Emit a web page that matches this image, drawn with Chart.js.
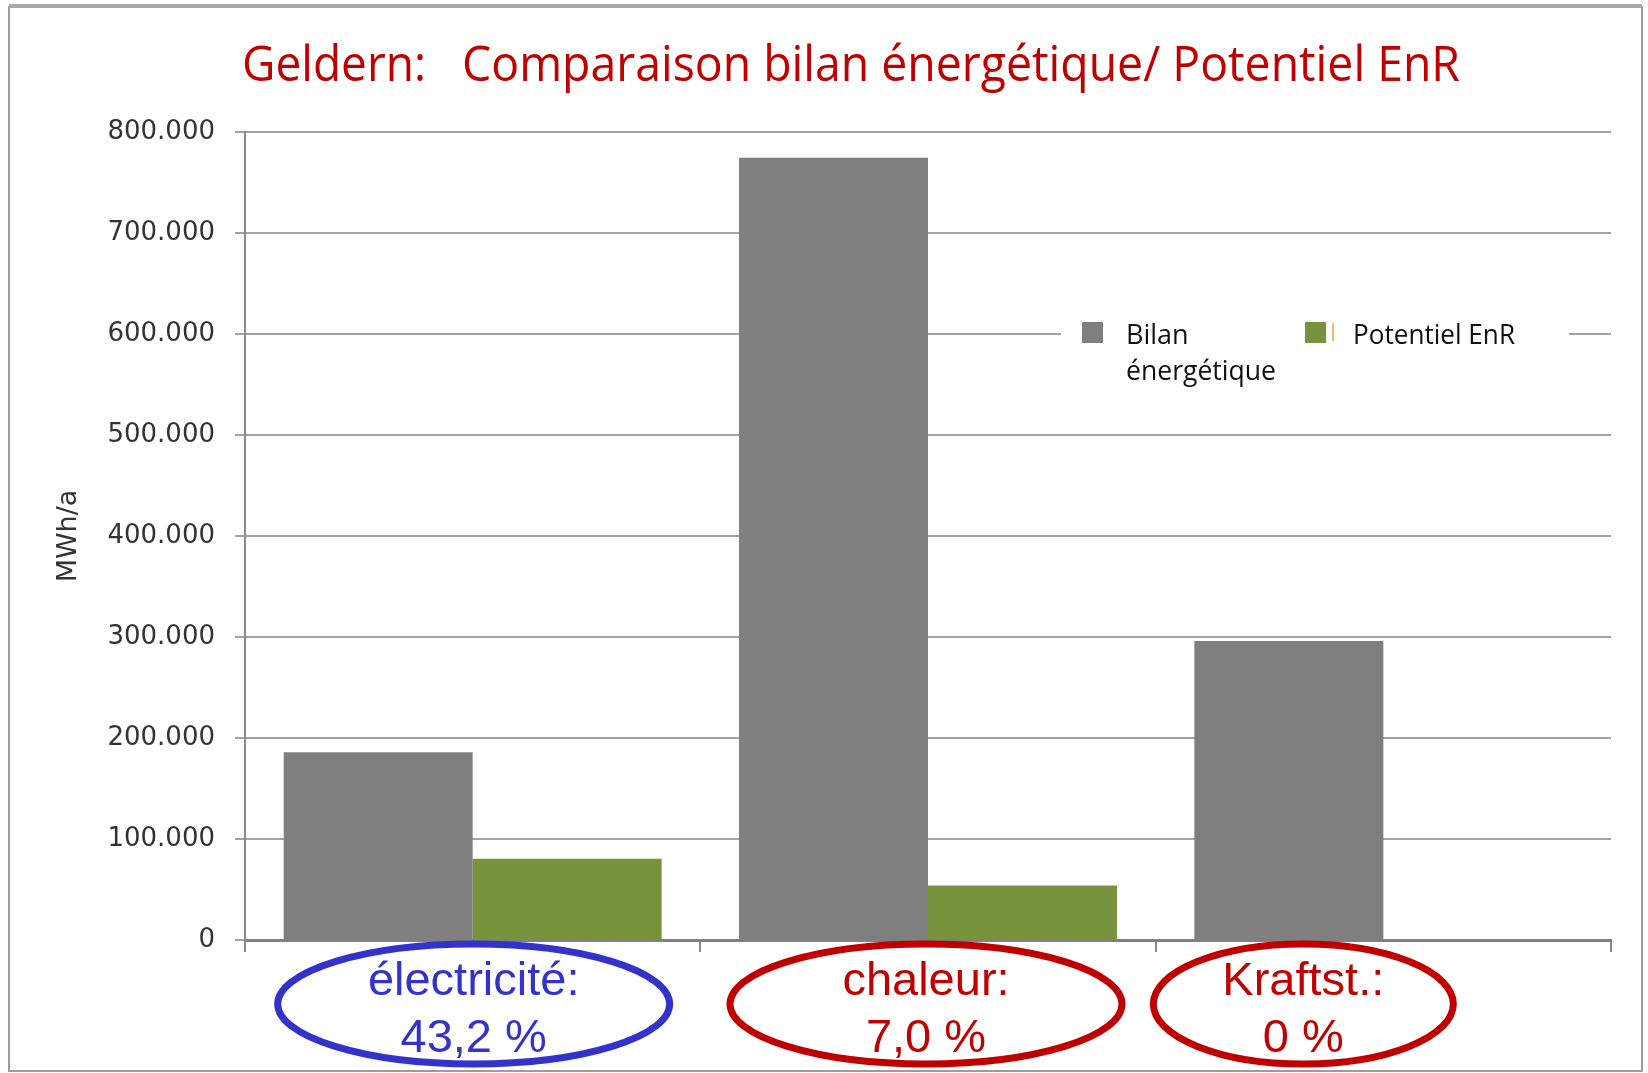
<!DOCTYPE html>
<html>
<head>
<meta charset="utf-8">
<title>Geldern</title>
<script src="https://cdn.jsdelivr.net/npm/chart.js@4.4.1/dist/chart.umd.min.js"></script>
<style>
    html, body { margin: 0; padding: 0; background: #ffffff; }
    #wrap { position: relative; width: 1648px; height: 1073px; }
</style>
</head>
<body>
<div id="wrap"><canvas id="chart" width="1648" height="1073"></canvas></div>
<script>
// --- data ---
const categories = ['électricité:', 'chaleur:', 'Kraftst.:'];
const shareLabels = ['43,2 %', '7,0 %', '0 %'];
const bilanValues = [186000, 774600, 296000];
const potentielValues = [80400, 54000, 0];
const seriesNames = [['Bilan', 'énergétique'], ['Potentiel EnR']];
const seriesColors = ['#7f7f7f', '#77933c'];
const yTickValues = [0, 100000, 200000, 300000, 400000, 500000, 600000, 700000, 800000];
const titleCity = 'Geldern:';
const titleText = 'Comparaison bilan énergétique/ Potentiel EnR';
const yAxisTitle = 'MWh/a';

// note styling (ellipses under the categories)
const noteColors = ['#3333cc', '#c00000', '#c00000'];
const noteShift = [1, -2, -80];
const noteRadiusX = [196, 196, 150];

const RED = '#c00000';

function fmtThousands(v) {
    return String(v).replace(/\B(?=(\d{3})+(?!\d))/g, '.');
}

// white page + grey frame
const framePlugin = {
    id: 'frame',
    beforeDraw(chart) {
        const ctx = chart.ctx;
        ctx.save();
        ctx.fillStyle = '#ffffff';
        ctx.fillRect(0, 0, chart.width, chart.height);
        ctx.strokeStyle = '#9c9c9c';
        ctx.lineWidth = 2;
        ctx.strokeRect(9, 7, 1633, 1064);
        ctx.fillStyle = '#a8a8a8';
        ctx.fillRect(9, 4, 1633, 4);
        ctx.restore();
    }
};

// two-part title
const titlePlugin = {
    id: 'twoPartTitle',
    afterDraw(chart) {
        const ctx = chart.ctx;
        ctx.save();
        ctx.fillStyle = RED;
        ctx.textBaseline = 'alphabetic';
        ctx.textAlign = 'left';
        ctx.font = '50px "Open Sans"';
        ctx.fillText(titleCity, 242, 81, 184);
        ctx.fillText(titleText, 462, 81, 998);
        ctx.restore();
    }
};

// legend inside the plot area, first label wraps on two lines
const legendPlugin = {
    id: 'boxLegend',
    afterDatasetsDraw(chart) {
        const ctx = chart.ctx;
        const area = chart.chartArea;
        const top = area.top + 190;
        ctx.save();
        ctx.fillStyle = '#ffffff';
        ctx.fillRect(area.right - 550, top, 508, 90);

        const items = [
            { sx: area.right - 529, tx: area.right - 485, maxW: 150 },
            { sx: area.right - 306, tx: area.right - 258, maxW: 162 }
        ];
        ctx.font = '27px "Open Sans"';
        ctx.textAlign = 'left';
        ctx.textBaseline = 'alphabetic';
        items.forEach((it, i) => {
            ctx.fillStyle = seriesColors[i];
            ctx.fillRect(it.sx, top, 21, 21);
            ctx.fillStyle = '#111111';
            seriesNames[i].forEach((line, k) => {
                ctx.fillText(line, it.tx, top + 22 + k * 36, it.maxW);
            });
        });
        // small orange stroke next to the green key, as in the original
        ctx.strokeStyle = '#f0a040';
        ctx.lineWidth = 1.5;
        ctx.beginPath();
        ctx.moveTo(items[1].sx + 28, top + 1);
        ctx.lineTo(items[1].sx + 28, top + 19);
        ctx.stroke();
        ctx.restore();
    }
};

// category names with share, circled
const notesPlugin = {
    id: 'circledNotes',
    afterDraw(chart) {
        const ctx = chart.ctx;
        const xs = chart.scales.x;
        ctx.save();
        categories.forEach((cat, i) => {
            const cx = xs.getPixelForValue(i) + noteShift[i];
            const cy = 1004;
            ctx.strokeStyle = noteColors[i];
            ctx.lineWidth = 7;
            ctx.beginPath();
            ctx.ellipse(cx, cy, noteRadiusX[i], 60, 0, 0, Math.PI * 2);
            ctx.stroke();
            ctx.fillStyle = noteColors[i];
            ctx.font = '47px "Liberation Sans", Arial, sans-serif';
            ctx.textAlign = 'center';
            ctx.textBaseline = 'alphabetic';
            ctx.fillText(cat, cx, 995);
            ctx.fillText(shareLabels[i], cx, 1052);
        });
        ctx.restore();
    }
};

const ctx = document.getElementById('chart').getContext('2d');
const chart = new Chart(ctx, {
    type: 'bar',
    data: {
        labels: categories,
        datasets: [
            {
                label: seriesNames[0].join(' '),
                data: bilanValues,
                backgroundColor: seriesColors[0],
                borderWidth: 0,
                categoryPercentage: 0.83,
                barPercentage: 1
            },
            {
                label: seriesNames[1].join(' '),
                data: potentielValues,
                backgroundColor: seriesColors[1],
                borderWidth: 0,
                categoryPercentage: 0.83,
                barPercentage: 1
            }
        ]
    },
    options: {
        responsive: false,
        animation: false,
        devicePixelRatio: 1,
        layout: { padding: { top: 132, right: 37, left: 0, bottom: 0 } },
        plugins: {
            legend: { display: false },
            title: { display: false },
            tooltip: { enabled: false }
        },
        scales: {
            x: {
                offset: true,
                ticks: { display: false },
                grid: {
                    offset: true,
                    drawOnChartArea: false,
                    drawTicks: true,
                    tickLength: 12,
                    color: '#8a8a8a',
                    lineWidth: 2
                },
                border: { display: true, color: '#808080', width: 3 },
                afterFit(scale) { scale.height = 133; }
            },
            y: {
                min: 0,
                max: 800000,
                afterBuildTicks(scale) {
                    scale.ticks = yTickValues.map(v => ({ value: v }));
                },
                ticks: {
                    color: '#333333',
                    font: { family: '"DejaVu Sans"', size: 26 },
                    padding: 20,
                    callback: v => fmtThousands(v)
                },
                grid: {
                    color: '#a3a3a3',
                    lineWidth: 2,
                    drawTicks: true,
                    tickLength: 10
                },
                border: { display: true, color: '#8a8a8a', width: 2 },
                title: {
                    display: true,
                    text: yAxisTitle,
                    color: '#333333',
                    font: { family: '"DejaVu Sans"', size: 27 },
                    padding: { top: 53, bottom: 0 }
                },
                afterFit(scale) { scale.width = 245; }
            }
        }
    },
    plugins: [framePlugin, legendPlugin, notesPlugin, titlePlugin]
});
</script>
</body>
</html>
